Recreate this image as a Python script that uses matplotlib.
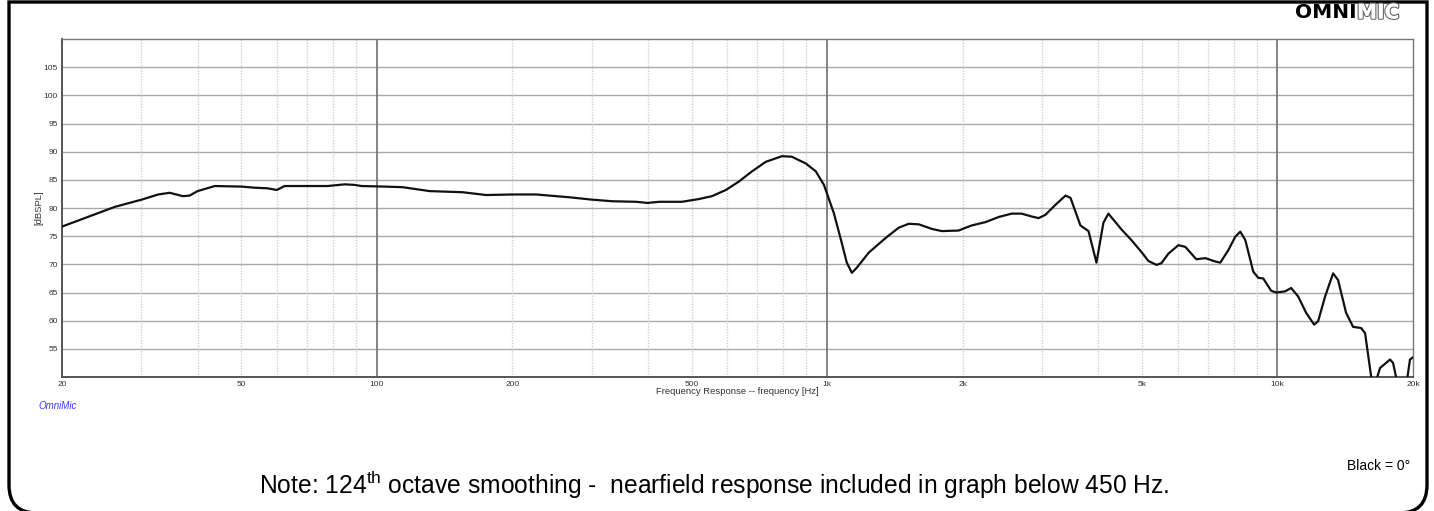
import matplotlib
matplotlib.use('Agg')
import matplotlib.pyplot as plt
import matplotlib.patheffects as pe
from matplotlib.path import Path
from matplotlib.patches import PathPatch
import numpy as np

# frequency response (Hz, dBSPL)
freq = [20, 22.8, 26.2, 30.1, 32.7, 34.7, 37.1, 38.4, 40.0, 43.7, 50.1, 53.6, 57.2, 60, 62.4,
        77.8, 84.8, 89.3, 92.5, 104, 114, 131, 155, 175, 200, 226, 268, 299, 333, 377, 399,
        424, 476, 520, 555, 596, 637, 681, 731, 794, 835, 897, 944, 984, 999, 1035, 1073,
        1106, 1135, 1164, 1238, 1350, 1442, 1518, 1598, 1707, 1796, 1960, 2031, 2094, 2249,
        2404, 2569, 2702, 2844, 2948, 3055, 3217, 3384, 3471, 3652, 3806, 3964, 4108, 4214,
        4504, 4740, 4988, 5170, 5386, 5525, 5727, 6026, 6244, 6605, 6916, 7278, 7466, 7778,
        8060, 8270, 8485, 8838, 9066, 9299, 9687, 9940, 10400, 10725, 11117, 11580, 12064,
        12313, 12761, 13292, 13637, 14204, 14724, 15336, 15652, 16140, 16350, 16600, 16900,
        17784, 18060, 18340, 18900, 19400, 19694, 20000]
spl = [76.7, 78.4, 80.2, 81.5, 82.4, 82.7, 82.1, 82.2, 83.0, 83.9, 83.8, 83.6, 83.5, 83.2, 83.9,
       83.9, 84.2, 84.1, 83.9, 83.8, 83.7, 83.0, 82.8, 82.3, 82.4, 82.4, 81.9, 81.5, 81.2, 81.1, 80.9,
       81.1, 81.1, 81.6, 82.1, 83.2, 84.7, 86.5, 88.2, 89.2, 89.1, 87.9, 86.5, 84.1, 82.6, 79.1, 74.4,
       70.3, 68.5, 69.4, 72.1, 74.7, 76.5, 77.2, 77.1, 76.3, 75.9, 76.0, 76.5, 76.9, 77.5,
       78.4, 79.0, 79.0, 78.5, 78.2, 78.8, 80.6, 82.2, 81.8, 76.9, 75.9, 70.3, 77.4, 79.0,
       76.2, 74.3, 72.2, 70.6, 69.9, 70.2, 71.9, 73.4, 73.1, 70.9, 71.1, 70.5, 70.3, 72.5,
       74.9, 75.8, 74.3, 68.7, 67.6, 67.5, 65.3, 65.0, 65.2, 65.8, 64.3, 61.4, 59.3,
       59.9, 64.3, 68.4, 67.2, 61.4, 58.9, 58.7, 57.8, 50.2, 49.0, 49.6, 51.6,
       53.1, 52.5, 50.0, 47.5, 49.5, 53.1, 53.5]

yticks = [55, 60, 65, 70, 75, 80, 85, 90, 95, 100, 105]
xticks = [20, 50, 100, 200, 500, 1000, 2000, 5000, 10000, 20000]
xticklabels = ['20', '50', '100', '200', '500', '1k', '2k', '5k', '10k', '20k']
decades = [100, 1000, 10000]
minors = [30, 40, 50, 60, 70, 80, 90, 200, 300, 400, 500, 600, 700, 800, 900,
          2000, 3000, 4000, 5000, 6000, 7000, 8000, 9000]

W, H = 1434, 511
fig = plt.figure(figsize=(W / 100, H / 100), dpi=100)
plt.rcParams['font.family'] = ['Liberation Sans', 'DejaVu Sans']

# background layer in pixel coordinates for the rounded frame
bg = fig.add_axes([0, 0, 1, 1])
bg.set_xlim(0, W)
bg.set_ylim(H, 0)
bg.axis('off')
r = 28
x0, x1, y0, y1 = 9, 1427, 2, 513
verts = [(x0, y0), (x0, y1 - r), (x0, y1), (x0 + r, y1), (x1 - r, y1), (x1, y1), (x1, y1 - r),
         (x1, y0), (x0, y0)]
codes = [Path.MOVETO, Path.LINETO, Path.CURVE3, Path.CURVE3, Path.LINETO, Path.CURVE3, Path.CURVE3,
         Path.LINETO, Path.CLOSEPOLY]
bg.add_patch(PathPatch(Path(verts, codes), facecolor='white', edgecolor='black', lw=2.4))

ax = fig.add_axes([62 / W, 1 - 377 / H, (1413 - 62) / W, (377 - 39) / H])
ax.set_xscale('log')
ax.set_xlim(20, 20000)
ax.set_ylim(50, 110)

for y in yticks:
    ax.axhline(y, color='#a9a9a9', lw=1.0, zorder=1)
for f in minors:
    ax.axvline(f, color='#cfcfcf', lw=1.0, ls=(0, (1, 1)), zorder=1)
for f in decades:
    ax.axvline(f, color='#7a7a7a', lw=1.3, zorder=1)

ax.plot(freq, spl, color='#111111', lw=1.6, zorder=3, solid_joinstyle='round')

ax.set_yticks(yticks)
ax.set_yticklabels([str(v) for v in yticks], fontsize=6, color='#333333')
ax.set_xticks(xticks)
ax.set_xticklabels(xticklabels, fontsize=6, color='#333333')
ax.xaxis.set_minor_locator(matplotlib.ticker.NullLocator())
ax.tick_params(length=0, pad=3)
ax.set_xlabel('Frequency Response -- frequency [Hz]', fontsize=6.8, color='#333333', labelpad=-1)
ax.set_ylabel('[dBSPL]', fontsize=6.8, color='#333333', labelpad=0)

for side in ['left', 'bottom']:
    ax.spines[side].set_color('#555555')
    ax.spines[side].set_linewidth(1.4)
for side in ['top', 'right']:
    ax.spines[side].set_color('#777777')
    ax.spines[side].set_linewidth(1.0)

# labels around the plot
bg.text(38, 406, 'OmniMic', color='#3a3aff', fontsize=7, style='italic', va='center')
bg.text(1410, 466, 'Black = 0°', fontsize=10, ha='right', va='center')
bg.text(714, 485, r'Note: 124$^{\mathregular{th}}$ octave smoothing -  nearfield response included in graph below 450 Hz.',
        fontsize=17.7, ha='center', va='center')
bg.text(1357, 13, 'OMNI', fontsize=14.5, fontweight='heavy', ha='right', va='center', color='black',
        family='DejaVu Sans')
bg.text(1357, 13, 'MIC', fontsize=14.5, fontweight='heavy', ha='left', va='center', color='white',
        family='DejaVu Sans', path_effects=[pe.withStroke(linewidth=1.8, foreground='#666666'), pe.Normal()])

fig.savefig('out.png', dpi=100)
